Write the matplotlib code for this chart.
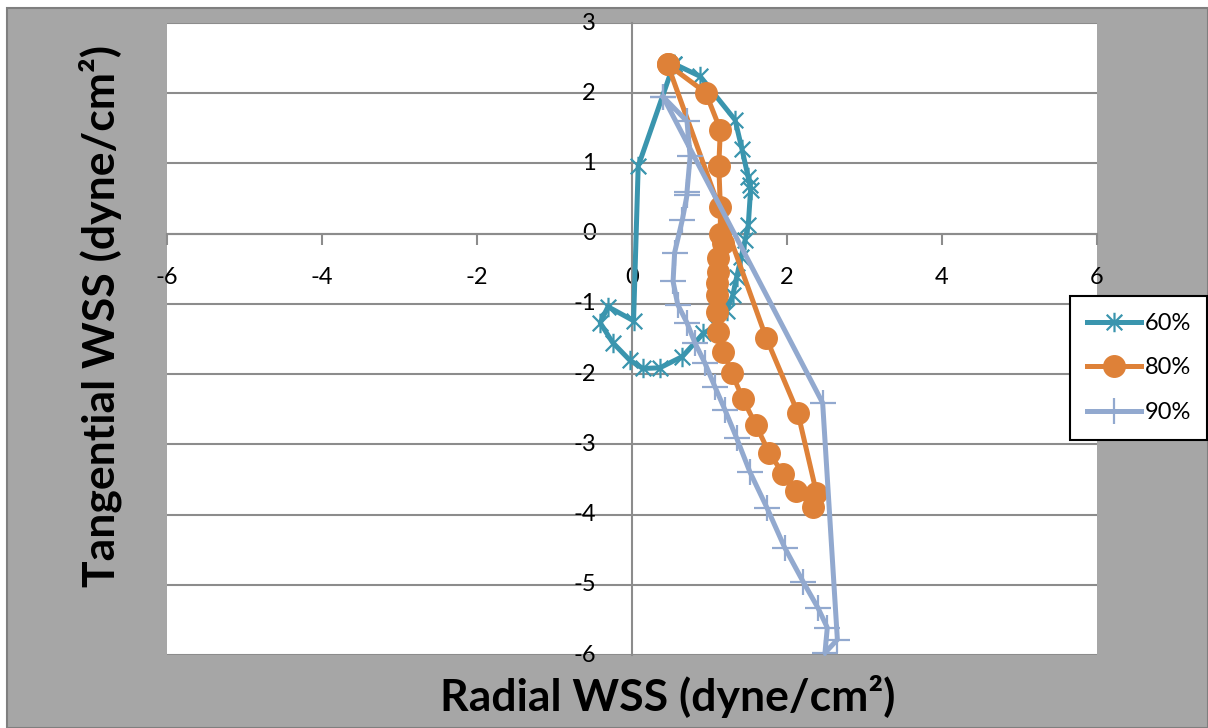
import matplotlib
matplotlib.use("Agg")
import matplotlib.pyplot as plt
from matplotlib.path import Path
from matplotlib.patches import Rectangle

# ---- data ----
x60 = [0.54, 0.88, 1.33, 1.42, 1.50, 1.52, 1.53, 1.50, 1.46, 1.41, 1.35, 1.30, 1.22, 1.08, 0.92,
       0.65, 0.36, 0.14, -0.03, -0.25, -0.41, -0.31, 0.02, 0.08, 0.54]
y60 = [2.42, 2.24, 1.62, 1.20, 0.80, 0.70, 0.62, 0.12, -0.09, -0.33, -0.62, -0.88, -1.10, -1.32, -1.42,
       -1.75, -1.91, -1.92, -1.80, -1.55, -1.27, -1.04, -1.24, 0.96, 2.42]

x80 = [0.46, 0.95, 1.14, 1.12, 1.14, 1.14, 1.17, 1.11, 1.11, 1.10, 1.10, 1.10, 1.11, 1.18, 1.29,
       1.43, 1.60, 1.77, 1.95, 2.12, 2.33, 2.38, 2.14, 1.73, 0.46]
y80 = [2.41, 2.01, 1.48, 0.97, 0.38, 0.00, -0.13, -0.34, -0.54, -0.70, -0.87, -1.11, -1.40, -1.68, -1.99,
       -2.35, -2.73, -3.12, -3.42, -3.66, -3.89, -3.69, -2.55, -1.48, 2.41]

x90 = [0.40, 0.71, 0.75, 0.71, 0.71, 0.65, 0.55, 0.53, 0.59, 0.71, 0.81, 0.94, 1.07, 1.20, 1.35,
       1.52, 1.74, 1.97, 2.21, 2.40, 2.52, 2.49, 2.65, 2.46, 0.40]
y90 = [1.95, 1.60, 1.10, 0.60, 0.55, 0.20, -0.27, -0.68, -1.01, -1.27, -1.55, -1.84, -2.18, -2.51, -2.91,
       -3.39, -3.90, -4.47, -4.96, -5.33, -5.61, -5.97, -5.78, -2.41, 1.95]

series_labels = ["60%", "80%", "90%"]
x_ticks = [-6, -4, -2, 0, 2, 4, 6]
y_ticks = [-6, -5, -4, -3, -2, -1, 0, 1, 2, 3]

# ---- style ----
c60, c80, c90 = "#3a95ae", "#de8138", "#92a9cf"
gray_bg = "#a6a6a6"
grid_c = "#8c8c8c"
FONT = ["Lato", "DejaVu Sans"]
plt.rcParams["font.family"] = FONT

asterisk = Path([(-1, -1), (1, 1), (-1, 1), (1, -1), (0, -1.25), (0, 1.25)],
                [Path.MOVETO, Path.LINETO, Path.MOVETO, Path.LINETO, Path.MOVETO, Path.LINETO])

fig = plt.figure(figsize=(12.08, 7.28), dpi=100)
fig.patch.set_facecolor("white")
bg = Rectangle((7 / 1208, 0), 1 - 7 / 1208, 1 - 8 / 728, transform=fig.transFigure,
               facecolor=gray_bg, edgecolor="#7f7f7f", linewidth=1.5, zorder=-10)
fig.add_artist(bg)

ax = fig.add_axes([167 / 1208, 73 / 728, 930 / 1208, 632 / 728])
ax.set_zorder(1)
ax.set_facecolor("white")
ax.set_xlim(-6, 6)
ax.set_ylim(-6, 3)

ax.plot(x60, y60, color=c60, lw=3.6, marker=asterisk, ms=14, mew=1.6, mec=c60,
        label=series_labels[0], zorder=3, solid_joinstyle="round")
ax.plot(x80, y80, color=c80, lw=3.6, marker="o", ms=15.5, mfc=c80, mec=c80,
        label=series_labels[1], zorder=4, solid_joinstyle="round")
ax.plot(x90, y90, color=c90, lw=3.6, marker="+", ms=19, mew=1.6, mec=c90,
        label=series_labels[2], zorder=5, solid_joinstyle="round")

# axes crossing at zero
for s in ["top", "right"]:
    ax.spines[s].set_visible(False)
ax.spines["left"].set_position(("data", 0))
ax.spines["bottom"].set_position(("data", 0))
for s in ["left", "bottom"]:
    ax.spines[s].set_color(grid_c)
    ax.spines[s].set_linewidth(1.5)
    ax.spines[s].set_zorder(2)

ax.set_xticks(x_ticks)
ax.set_yticks(y_ticks)
ax.set_xticklabels([str(v) for v in x_ticks])
ax.set_yticklabels([str(v) for v in y_ticks])
ax.tick_params(axis="x", direction="out", length=8, width=1.5, color=grid_c,
               labelsize=17, pad=16)
ax.tick_params(axis="y", direction="out", length=0, width=1.5, color=grid_c,
               labelsize=17, pad=26)
for lab in ax.get_yticklabels():
    lab.set_verticalalignment("center")

ax.yaxis.grid(True, color=grid_c, lw=1.5, zorder=1)
ax.xaxis.grid(False)
ax.set_axisbelow(True)

fig.text(668 / 1208, 1 - 697 / 728, "Radial WSS (dyne/cm²)", ha="center", va="center",
         fontsize=32, fontweight="bold", family=FONT)
fig.text(100 / 1208, 1 - 316 / 728, "Tangential WSS (dyne/cm²)", ha="center", va="center",
         rotation=90, fontsize=32, fontweight="bold", family=FONT)

leg = fig.legend(loc="center left", bbox_to_anchor=(1070 / 1208, 1 - 368 / 728),
                 frameon=True, fancybox=False, edgecolor="black", framealpha=1,
                 fontsize=17, handlelength=2.3, labelspacing=1.0, borderpad=0.7,
                 handletextpad=0.15, borderaxespad=0)
leg.get_frame().set_linewidth(1.5)
leg.set_zorder(10)

fig.savefig("out.png", dpi=100, facecolor=fig.get_facecolor())
